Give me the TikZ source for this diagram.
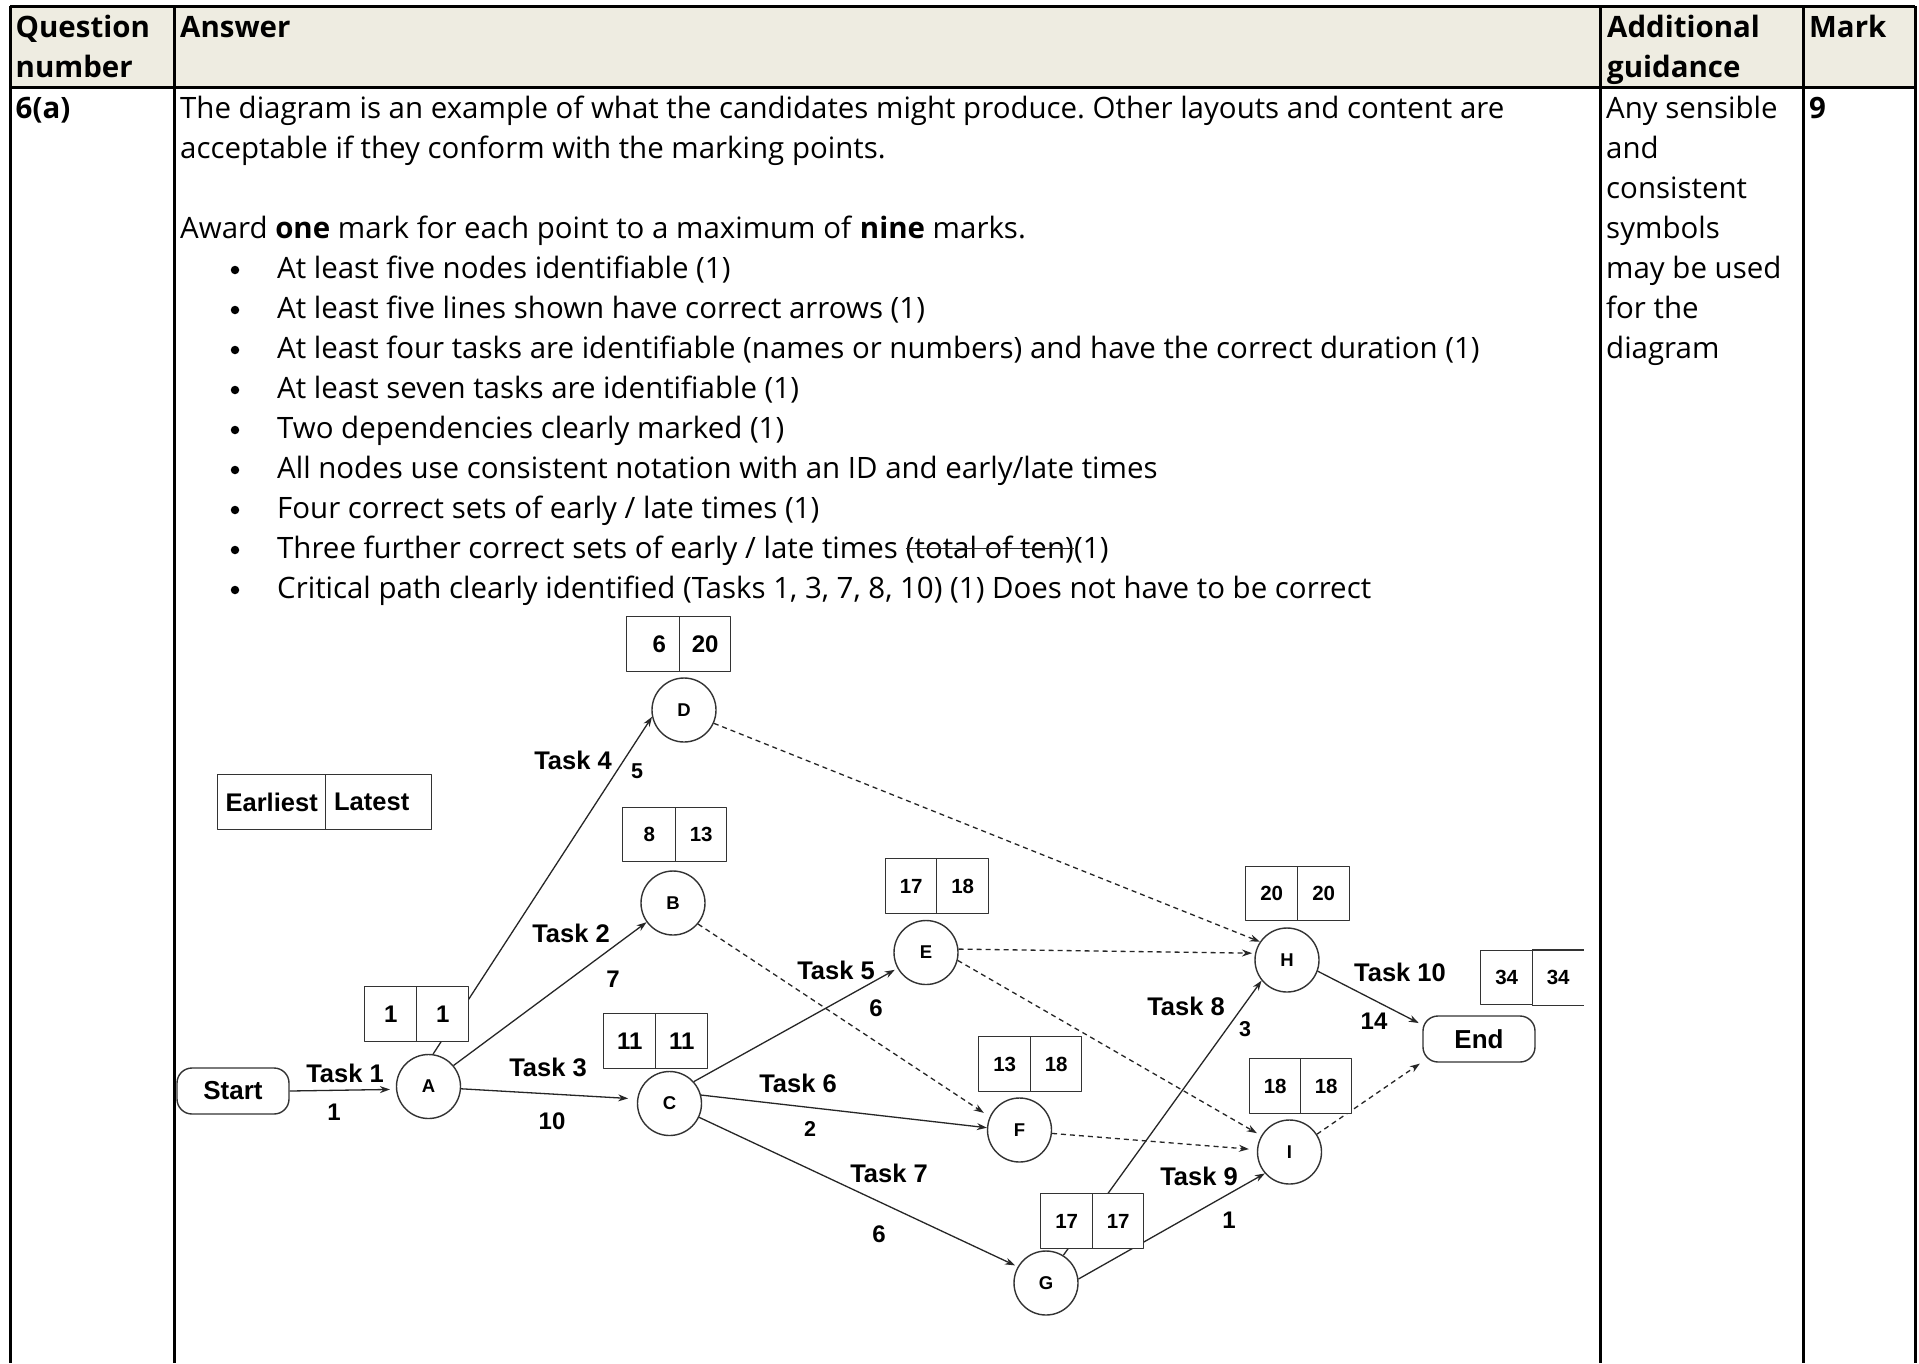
\documentclass[tikz,border=0pt]{standalone}
\usepackage{fontspec}
\setmainfont{Open Sans}
\newfontfamily\dfont{Liberation Sans}
\usetikzlibrary{arrows.meta}
\definecolor{hdrfill}{RGB}{238,236,225}
\frenchspacing
\begin{document}
\begin{tikzpicture}[x=1pt,y=-1pt,line join=round,
  tabtxt/.style={inner sep=0pt, anchor=base west, font=\fontsize{29.45pt}{40pt}\selectfont},
  tabbold/.style={inner sep=0pt, anchor=base west, font=\fontsize{29.45pt}{40pt}\selectfont\bfseries},
  bul/.style={circle, fill=black, inner sep=0pt, minimum size=8.5pt},
  gridline/.style={line width=3pt, black},
  circ/.style={circle, draw=black!80, line width=1.4pt, minimum size=64pt, inner sep=0pt, font=\dfont\bfseries\fontsize{18.5pt}{18.5pt}\selectfont},
  term/.style={rectangle, rounded corners=15pt, draw=black!80, line width=1.4pt, minimum width=112pt, minimum height=46pt, inner sep=0pt, font=\dfont\bfseries\fontsize{26pt}{26pt}\selectfont},
  cellbase/.style={rectangle, draw=black!80, fill=white, line width=1.4pt, inner sep=0pt, anchor=north west},
  cellL/.style={cellbase, font=\dfont\bfseries\fontsize{24pt}{24pt}\selectfont},
  cellS/.style={cellbase, font=\dfont\bfseries\fontsize{20.5pt}{20.5pt}\selectfont},
  cellT/.style={cellbase, font=\dfont\bfseries\fontsize{25.5pt}{25.5pt}\selectfont},
  tasklbl/.style={inner sep=0pt, font=\dfont\bfseries\fontsize{25.5pt}{25.5pt}\selectfont},
  durlbl/.style={inner sep=0pt, font=\dfont\bfseries\fontsize{24pt}{24pt}\selectfont},
  durs/.style={inner sep=0pt, font=\dfont\bfseries\fontsize{21.5pt}{21.5pt}\selectfont},
  arr/.style={draw=black!85, line width=1.3pt, -{Stealth[length=10pt,width=7pt]}},
  darr/.style={arr, dash pattern=on 5pt off 4pt},
  boxline/.style={draw=black!80, line width=1.4pt}
]
\useasboundingbox (0,0) rectangle (1919,1363);
\fill[white] (0,0) rectangle (1919,1363);
% ---------- table ----------
\fill[hdrfill] (10,6) rectangle (1915,87);
\draw[gridline] (10,6) -- (1915,6);
\draw[gridline] (10,87) -- (1915,87);
\draw[gridline] (10,6) -- (10,1363);
\draw[gridline] (174.5,6) -- (174.5,1363);
\draw[gridline] (1600.5,6) -- (1600.5,1363);
\draw[gridline] (1803,6) -- (1803,1363);
\draw[gridline] (1915,6) -- (1915,1363);

\node[tabbold] (hq1) at (15.5,37) {Question};
\node[tabbold] (hq2) at (15.5,77) {number};
\node[tabbold] (ha) at (180,37) {Answer};
\node[tabbold] (hg1) at (1607,37) {Additional};
\node[tabbold] (hg2) at (1607,77) {guidance};
\node[tabbold] (hm) at (1809,37) {Mark};

\node[tabbold] (qn) at (15.5,118) {6(a)};
\node[tabtxt] (p1) at (180,118) {The diagram is an example of what the candidates might produce. Other layouts and content are};
\node[tabtxt] (p2) at (180,158) {acceptable if they conform with the marking points.};
\node[tabtxt] (p3) at (180,238) {Award \textbf{one} mark for each point to a maximum of \textbf{nine} marks.};

\node[bul] (b1) at (235,270) {};
\node[tabtxt] (bt1) at (277,278) {At least five nodes identifiable (1)};
\node[bul] (b2) at (235,310) {};
\node[tabtxt] (bt2) at (277,318) {At least five lines shown have correct arrows (1)};
\node[bul] (b3) at (235,350) {};
\node[tabtxt] (bt3) at (277,358) {At least four tasks are identifiable (names or numbers) and have the correct duration (1)};
\node[bul] (b4) at (235,390) {};
\node[tabtxt] (bt4) at (277,398) {At least seven tasks are identifiable (1)};
\node[bul] (b5) at (235,430) {};
\node[tabtxt] (bt5) at (277,438) {Two dependencies clearly marked (1)};
\node[bul] (b6) at (235,470) {};
\node[tabtxt] (bt6) at (277,478) {All nodes use consistent notation with an ID and early/late times};
\node[bul] (b7) at (235,510) {};
\node[tabtxt] (bt7) at (277,518) {Four correct sets of early / late times (1)};
\node[bul] (b8) at (235,550) {};
\node[tabtxt] (bt8) at (277,558) {Three further correct sets of early / late times};
\node[tabtxt, xshift=7.6pt] (bt8s) at (bt8.base east) {(total of ten)};
\node[tabtxt] (bt8e) at (bt8s.base east) {(1)};
\draw[line width=1.6pt, black!85] ([yshift=9.5pt]bt8s.base west) -- ([yshift=9.5pt]bt8s.base east);
\node[bul] (b9) at (235,590) {};
\node[tabtxt] (bt9) at (277,598) {Critical path clearly identified (Tasks 1, 3, 7, 8, 10) (1) Does not have to be correct};

\node[tabtxt] (g1) at (1606,118) {Any sensible};
\node[tabtxt] (g2) at (1606,158) {and};
\node[tabtxt] (g3) at (1606,198) {consistent};
\node[tabtxt] (g4) at (1606,238) {symbols};
\node[tabtxt] (g5) at (1606,278) {may be used};
\node[tabtxt] (g6) at (1606,318) {for the};
\node[tabtxt] (g7) at (1606,358) {diagram};
\node[tabbold] (mk) at (1809,118) {9};

% ---------- network nodes ----------
\node[term] (Start) at (233,1091) {Start};
\node[term] (End) at (1479,1039) {End};
\node[circ] (A) at (428.5,1086.5) {A};
\node[circ] (B) at (673,903) {B};
\node[circ] (C) at (669.5,1103.5) {C};
\node[circ] (D) at (684,710) {D};
\node[circ] (E) at (926,952.5) {E};
\node[circ] (F) at (1019.5,1130) {F};
\node[circ] (G) at (1046,1283) {G};
\node[circ] (H) at (1287,960) {H};
\node[circ] (I) at (1289.5,1152) {I};

% ---------- connectors ----------
\draw[arr, shorten >=6pt] (Start.east) -- (A.185);
\draw[arr] (A.82) -- (D.192);
\draw[arr] (A.40) -- (B.216);
\draw[arr, shorten >=9pt] (A.356) -- (C.172);
\draw[arr, shorten >=3pt] (C.42) -- (E.209);
\draw[arr] (C.15) -- (F.176);
\draw[arr, shorten >=3pt] (C.335) -- (G.150);
\draw[arr] (G.58) -- (H.219);
\draw[arr] (G.7) -- (I.221);
\draw[arr, shorten >=4pt] (H.340) -- (End.166);
\draw[darr] (D.336) -- (H.146);
\draw[darr, shorten >=3pt] (E.6) -- (H.168);
\draw[darr, shorten >=5pt] (E.346) -- (I.150);
\draw[darr, shorten >=7pt] (B.320) -- (F.156);
\draw[darr, shorten >=8pt] (F.354) -- (I.176);
\draw[darr, shorten >=3pt] (I.33) -- (End.202);

% ---------- labels ----------
\node[tasklbl] (L1) at (345,1073) {Task 1};
\node[durlbl] (d1) at (334,1112) {1};
\node[tasklbl] (L4) at (573,760) {Task 4};
\node[durs] (d4) at (637,771) {5};
\node[tasklbl] (L2) at (571,933) {Task 2};
\node[durlbl] (d2) at (613,979) {7};
\node[tasklbl] (L3) at (548,1067) {Task 3};
\node[durlbl] (d3) at (552,1121) {10};
\node[tasklbl] (L5) at (836,970) {Task 5};
\node[durlbl] (d5) at (876,1008) {6};
\node[tasklbl] (L6) at (798,1083) {Task 6};
\node[durs] (d6) at (810,1129) {2};
\node[tasklbl] (L7) at (889,1173) {Task 7};
\node[durlbl] (d7) at (879,1234) {6};
\node[tasklbl] (L8) at (1186,1006) {Task 8};
\node[durs] (d8) at (1245,1029) {3};
\node[tasklbl] (L9) at (1199,1176) {Task 9};
\node[durlbl] (d9) at (1229,1220) {1};
\node[tasklbl] (L10) at (1400,972) {Task 10};
\node[durlbl] (d10) at (1374,1021) {14};

% ---------- early/late boxes ----------
\node[cellT, minimum width=108pt, minimum height=55pt] (legE) at (217,774) {Earliest};
\node[cellT, minimum width=106pt, minimum height=55pt] (legL) at (325,774) {Latest\hspace*{14pt}};

\node[cellL, minimum width=52pt, minimum height=55pt] (Ae) at (364,986) {1};
\node[cellL, minimum width=52pt, minimum height=55pt] (Al) at (416,986) {1};
\node[cellL, minimum width=52pt, minimum height=55pt] (Ce) at (603,1013) {11};
\node[cellL, minimum width=52pt, minimum height=55pt] (Cl) at (655,1013) {11};
\node[cellL, minimum width=53pt, minimum height=55pt] (De) at (626,616) {\hspace*{12pt}6};
\node[cellL, minimum width=51pt, minimum height=55pt] (Dl) at (679,616) {20};
\node[cellS, minimum width=53pt, minimum height=54pt] (Be) at (622,807) {8};
\node[cellS, minimum width=51pt, minimum height=54pt] (Bl) at (675,807) {13};
\node[cellS, minimum width=51pt, minimum height=55pt] (Ee) at (885,858) {17};
\node[cellS, minimum width=52pt, minimum height=55pt] (El) at (936,858) {18};
\node[cellS, minimum width=52pt, minimum height=54pt] (He) at (1245,866) {20};
\node[cellS, minimum width=52pt, minimum height=54pt] (Hl) at (1297,866) {20};
\node[cellS, minimum width=52pt, minimum height=55pt] (Fe) at (978,1036) {13};
\node[cellS, minimum width=51pt, minimum height=55pt] (Fl) at (1030,1036) {18};
\node[cellS, minimum width=51pt, minimum height=55pt] (Ie) at (1249,1058) {18};
\node[cellS, minimum width=51pt, minimum height=55pt] (Il) at (1300,1058) {18};
\node[cellS, minimum width=52pt, minimum height=55pt] (Ge) at (1040,1193) {17};
\node[cellS, minimum width=51pt, minimum height=55pt] (Gl) at (1092,1193) {17};
\node[cellS, minimum width=52pt, minimum height=54pt] (Ne) at (1480,950) {34};
\node[cellS, draw=none, minimum width=51pt, minimum height=54pt] (Nl) at (1532,950) {34};
\draw[boxline] (Nl.north west) -- (Nl.north east);
\draw[boxline] (Nl.south west) -- (Nl.south east);
\end{tikzpicture}
\end{document}
